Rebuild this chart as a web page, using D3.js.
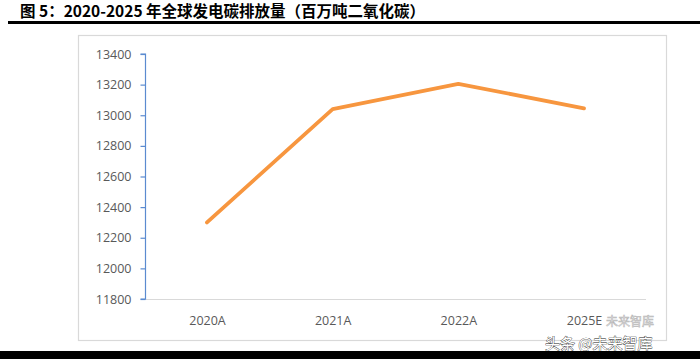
<!DOCTYPE html>
<html><head><meta charset="utf-8">
<script src="https://cdn.jsdelivr.net/npm/d3@7"></script>
<style>body{margin:0;background:#fff;}svg{display:block;}</style>
</head><body>
<script>
const categories = ["2020A","2021A","2022A","2025E"];
const values = [12300, 13040, 13205, 13045];
const yTicks = [11800,12000,12200,12400,12600,12800,13000,13200,13400];
const title = "图 5：2020-2025 年全球发电碳排放量（百万吨二氧化碳）";

const W=700,H=359;
const svg=d3.select("body").append("svg").attr("width",W).attr("height",H);
svg.append("rect").attr("width",W).attr("height",H).attr("fill","#fff");

svg.append("text").attr("x",20).attr("y",17).text(title)
  .attr("font-family","'Noto Sans CJK SC', sans-serif").attr("font-weight","bold")
  .attr("font-size",15.5).attr("fill","#000");
svg.append("rect").attr("x",8).attr("y",21).attr("width",W-8).attr("height",3).attr("fill","#000");

// chart frame
svg.append("rect").attr("x",78.5).attr("y",35.5).attr("width",588).attr("height",305)
  .attr("fill","none").attr("stroke","#D9D9D9").attr("stroke-width",1.2);

const x=d3.scalePoint().domain(categories).range([207,584]);
const y=d3.scaleLinear().domain([11800,13400]).range([299,54]);

// x axis line
svg.append("line").attr("x1",145).attr("x2",646).attr("y1",y(11800)+0.5).attr("y2",y(11800)+0.5)
  .attr("stroke","#D9D9D9").attr("stroke-width",1);

const yAxis=d3.axisLeft(y).tickValues(yTicks).tickSize(5).tickPadding(9).tickFormat(d3.format("d"));
const ga=svg.append("g").attr("transform","translate(145.5,0)").call(yAxis);
ga.select(".domain").attr("stroke","#5B8BD0").attr("stroke-width",1.2).attr("d","M-5,"+y(13400)+"H0V"+y(11800)+"H-5");
ga.selectAll(".tick line").attr("stroke","#5B8BD0").attr("stroke-width",1.2);
ga.selectAll(".tick text").attr("font-family","'Open Sans', 'Liberation Sans', sans-serif")
  .attr("font-size",12.5).attr("fill","#595959");

const xAxis=d3.axisBottom(x).tickSize(0).tickPadding(0);
const gx=svg.append("g").attr("transform","translate(0,316)").call(xAxis);
gx.select(".domain").remove();
gx.selectAll(".tick text").attr("font-family","'Open Sans', 'Liberation Sans', sans-serif")
  .attr("font-size",12.5).attr("fill","#595959");

const line=d3.line().x((d,i)=>x(categories[i])).y(d=>y(d));
svg.append("path").datum(values).attr("d",line).attr("fill","none")
  .attr("stroke","#F7963F").attr("stroke-width",3.8).attr("stroke-linecap","round").attr("stroke-linejoin","round");

// watermark
svg.append("text").attr("x",606).attr("y",326).text("未来智库")
  .attr("font-family","'Noto Sans CJK SC', sans-serif").attr("font-size",12)
  .attr("fill","none").attr("stroke","#999").attr("stroke-width",0.6).attr("opacity",0.7);
svg.append("text").attr("x",545).attr("y",349).text("头条 @未来智库")
  .attr("font-family","'Noto Sans CJK SC', sans-serif").attr("font-size",15)
  .attr("fill","#fff").attr("stroke","#222").attr("stroke-width",0.7).attr("paint-order","stroke");

svg.append("rect").attr("x",0).attr("y",351).attr("width",W).attr("height",8).attr("fill","#000");
</script>
</body></html>
